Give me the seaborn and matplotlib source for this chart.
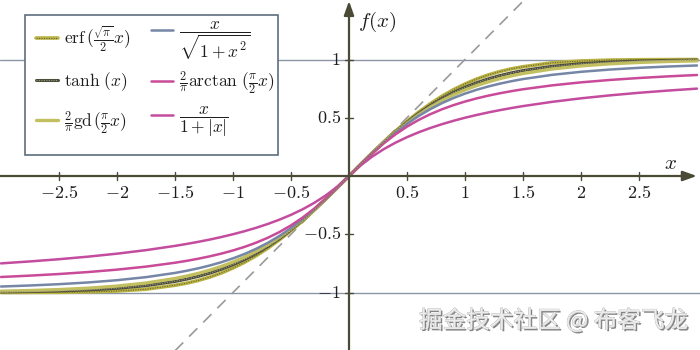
import matplotlib
matplotlib.use("Agg")
import matplotlib.pyplot as plt
import matplotlib.patheffects as pe
from matplotlib.patches import Rectangle
import seaborn as sns

sns.set_theme(style="white")
plt.rcParams["mathtext.fontset"] = "cm"
plt.rcParams["font.family"] = ["DejaVu Serif"]

# sample positions (x) and function values read for each curve
x_vals = [-3.0, -2.75, -2.5, -2.25, -2.0, -1.75, -1.5, -1.4, -1.3, -1.2, -1.1, -1.0,
          -0.9, -0.8, -0.7, -0.6, -0.5, -0.4, -0.3, -0.2, -0.1, 0.0,
          0.1, 0.2, 0.3, 0.4, 0.5, 0.6, 0.7, 0.8, 0.9, 1.0, 1.1, 1.2, 1.3, 1.4, 1.5,
          1.75, 2.0, 2.25, 2.5, 2.75, 3.0]

erf_vals = [-0.9998, -0.9994, -0.9983, -0.9952, -0.9873, -0.9717, -0.9379, -0.9201, -0.8967,
            -0.8674, -0.8323, -0.7899, -0.7407, -0.6840, -0.6197, -0.5479, -0.4691, -0.3839,
            -0.2931, -0.1979, -0.0997, 0.0,
            0.0997, 0.1979, 0.2931, 0.3839, 0.4691, 0.5479, 0.6197, 0.6840, 0.7407, 0.7899,
            0.8323, 0.8674, 0.8967, 0.9201, 0.9379, 0.9717, 0.9873, 0.9952, 0.9983, 0.9994, 0.9998]

tanh_vals = [-0.9951, -0.9918, -0.9866, -0.9780, -0.9640, -0.9414, -0.9051, -0.8854, -0.8617,
             -0.8337, -0.8005, -0.7616, -0.7163, -0.6640, -0.6044, -0.5370, -0.4621, -0.3800,
             -0.2913, -0.1974, -0.0997, 0.0,
             0.0997, 0.1974, 0.2913, 0.3800, 0.4621, 0.5370, 0.6044, 0.6640, 0.7163, 0.7616,
             0.8005, 0.8337, 0.8617, 0.8854, 0.9051, 0.9414, 0.9640, 0.9780, 0.9866, 0.9918, 0.9951]

gd_vals = [-0.9886, -0.9831, -0.9749, -0.9629, -0.9450, -0.9186, -0.8797, -0.8594, -0.8357,
           -0.8082, -0.7761, -0.7390, -0.6962, -0.6470, -0.5907, -0.5269, -0.4553, -0.3760,
           -0.2895, -0.1968, -0.0996, 0.0,
           0.0996, 0.1968, 0.2895, 0.3760, 0.4553, 0.5269, 0.5907, 0.6470, 0.6962, 0.7390,
           0.7761, 0.8082, 0.8357, 0.8594, 0.8797, 0.9186, 0.9450, 0.9629, 0.9749, 0.9831, 0.9886]

sqrt_vals = [-0.9487, -0.9398, -0.9285, -0.9138, -0.8944, -0.8682, -0.8321, -0.8137, -0.7926,
             -0.7682, -0.7399, -0.7071, -0.6690, -0.6247, -0.5735, -0.5145, -0.4472, -0.3714,
             -0.2874, -0.1961, -0.0995, 0.0,
             0.0995, 0.1961, 0.2874, 0.3714, 0.4472, 0.5145, 0.5735, 0.6247, 0.6690, 0.7071,
             0.7399, 0.7682, 0.7926, 0.8137, 0.8321, 0.8682, 0.8944, 0.9138, 0.9285, 0.9398, 0.9487]

atan_vals = [-0.8669, -0.8552, -0.8413, -0.8245, -0.8038, -0.7779, -0.7445, -0.7283, -0.7101,
             -0.6895, -0.6660, -0.6391, -0.6081, -0.5721, -0.5302, -0.4812, -0.4238, -0.3571,
             -0.2804, -0.1938, -0.0992, 0.0,
             0.0992, 0.1938, 0.2804, 0.3571, 0.4238, 0.4812, 0.5302, 0.5721, 0.6081, 0.6391,
             0.6660, 0.6895, 0.7101, 0.7283, 0.7445, 0.7779, 0.8038, 0.8245, 0.8413, 0.8552, 0.8669]

abs_vals = [-0.7500, -0.7333, -0.7143, -0.6923, -0.6667, -0.6364, -0.6000, -0.5833, -0.5652,
            -0.5455, -0.5238, -0.5000, -0.4737, -0.4444, -0.4118, -0.3750, -0.3333, -0.2857,
            -0.2308, -0.1667, -0.0909, 0.0,
            0.0909, 0.1667, 0.2308, 0.2857, 0.3333, 0.3750, 0.4118, 0.4444, 0.4737, 0.5000,
            0.5238, 0.5455, 0.5652, 0.5833, 0.6000, 0.6364, 0.6667, 0.6923, 0.7143, 0.7333, 0.7500]

diag_x = [-1.5, 1.5]
diag_y = [-1.5, 1.5]

labels = [r"$\mathrm{erf}\,(\frac{\sqrt{\pi}}{2}x)$",
          r"$\tanh\,(x)$",
          r"$\frac{2}{\pi}\mathrm{gd}\,(\frac{\pi}{2}x)$",
          r"$\dfrac{x}{\sqrt{1+x^2}}$",
          r"$\frac{2}{\pi}\arctan\,(\frac{\pi}{2}x)$",
          r"$\dfrac{x}{1+|x|}$"]

xticks = [-2.5, -2, -1.5, -1, -0.5, 0.5, 1, 1.5, 2, 2.5]
xtick_labels = [r"$-2.5$", r"$-2$", r"$-1.5$", r"$-1$", r"$-0.5$",
                r"$0.5$", r"$1$", r"$1.5$", r"$2$", r"$2.5$"]
yticks = [-1, -0.5, 0.5, 1]
ytick_labels = [r"$-1$", r"$-0.5$", r"$0.5$", r"$1$"]

AX = "#4a4a36"
OLIVE = "#bab445"
DARK = "#4b4b3a"
SLATE = "#7686a6"
MAG1 = "#c84a98"
MAG2 = "#c44c9e"
TXT = "#1e1e1e"

fig = plt.figure(figsize=(7, 3.5), dpi=100)
ax = fig.add_axes([0, 0, 1, 1])
ax.set_xlim(-349 / 116, 351 / 116)
ax.set_ylim(-174 / 116.5, 176 / 116.5)
ax.set_axis_off()

# horizontal asymptotes
ax.axhline(1, color="#8a96a6", lw=1.0, zorder=1)
ax.axhline(-1, color="#8a96a6", lw=1.0, zorder=1)

# y = x dashed
sns.lineplot(x=diag_x, y=diag_y, ax=ax, color="#9a9a9a", lw=1.2,
             linestyle=(0, (7, 5)), zorder=2)

series = [
    (erf_vals, OLIVE, 2.6, (0, (1, 1.2)), "#6a6432"),
    (tanh_vals, DARK, 2.2, (0, (1, 1.2)), "#9a9a80"),
    (gd_vals, "#c2bf60", 2.4, None, None),
    (sqrt_vals, SLATE, 1.8, None, None),
    (atan_vals, MAG1, 1.8, None, None),
    (abs_vals, MAG2, 1.8, None, None),
]
handles = []
for (vals, col, lw, dots, dcol) in series:
    sns.lineplot(x=x_vals, y=vals, ax=ax, color=col, lw=lw, zorder=3)
    base = ax.get_lines()[-1]
    if dots is not None:
        sns.lineplot(x=x_vals, y=vals, ax=ax, color=dcol, lw=0.8, linestyle=dots, zorder=4)
        handles.append((base, ax.get_lines()[-1]))
    else:
        handles.append(base)

# axes with arrows
ax.annotate("", xy=(349 / 116 - 0.01, 0), xytext=(-349 / 116, 0),
            arrowprops=dict(arrowstyle="-|>,head_length=0.7,head_width=0.25",
                            color=AX, lw=1.6, shrinkA=0, shrinkB=0), zorder=5)
ax.annotate("", xy=(0, 175 / 116.5), xytext=(0, -174 / 116.5),
            arrowprops=dict(arrowstyle="-|>,head_length=0.7,head_width=0.25",
                            color=AX, lw=1.6, shrinkA=0, shrinkB=0), zorder=5)

tick_h = 0.035
for t, lab in zip(xticks, xtick_labels):
    ax.plot([t, t], [-tick_h, tick_h], color=AX, lw=1.0, zorder=5)
    ax.text(t, -0.07, lab, ha="center", va="top", fontsize=13, color=TXT)
for t, lab in zip(yticks, ytick_labels):
    ax.plot([-tick_h, tick_h], [t, t], color=AX, lw=1.0, zorder=5)
    ax.text(-0.07, t, lab, ha="right", va="center", fontsize=13, color=TXT)

ax.text(0.08, 1.32, r"$f(x)$", fontsize=15, ha="left", va="center", color=TXT)
ax.text(2.77, 0.11, r"$x$", fontsize=15, ha="center", va="center", color=TXT)

# legend frame
W, H = 700, 350
frame = Rectangle((25 / W, 1 - 155 / H), 253 / W, 140 / H, transform=fig.transFigure,
                  facecolor="white", edgecolor="#5e6e7e", lw=1.2, zorder=9, clip_on=False)
ax.add_patch(frame)

common = dict(loc="upper left", ncol=1, fontsize=12.5, frameon=False,
              handlelength=1.25, handletextpad=0.35, borderpad=0, borderaxespad=0)
leg1 = ax.legend(handles=handles[:3], labels=labels[:3],
                 bbox_to_anchor=(36 / W, 1 - 24 / H), labelspacing=0.95, **common)
leg1.set_zorder(10)
ax.add_artist(leg1)
leg2 = ax.legend(handles=handles[3:], labels=labels[3:],
                 bbox_to_anchor=(151 / W, 1 - 20 / H), labelspacing=0.42, **common)
leg2.set_zorder(10)
for lg in (leg1, leg2):
    for t in lg.get_texts():
        t.set_color(TXT)

fig.text(0.983, 0.085, "掘金技术社区 @ 布客飞龙", ha="right", va="center", fontsize=17,
         family=["Noto Sans CJK SC", "DejaVu Sans"], color="#ececec",
         path_effects=[pe.withSimplePatchShadow(offset=(1.2, -1.2), shadow_rgbFace="#666666", alpha=0.8),
                       pe.Stroke(linewidth=0.5, foreground="#b0b0b0"), pe.Normal()])

fig.savefig("out.png", dpi=100)
